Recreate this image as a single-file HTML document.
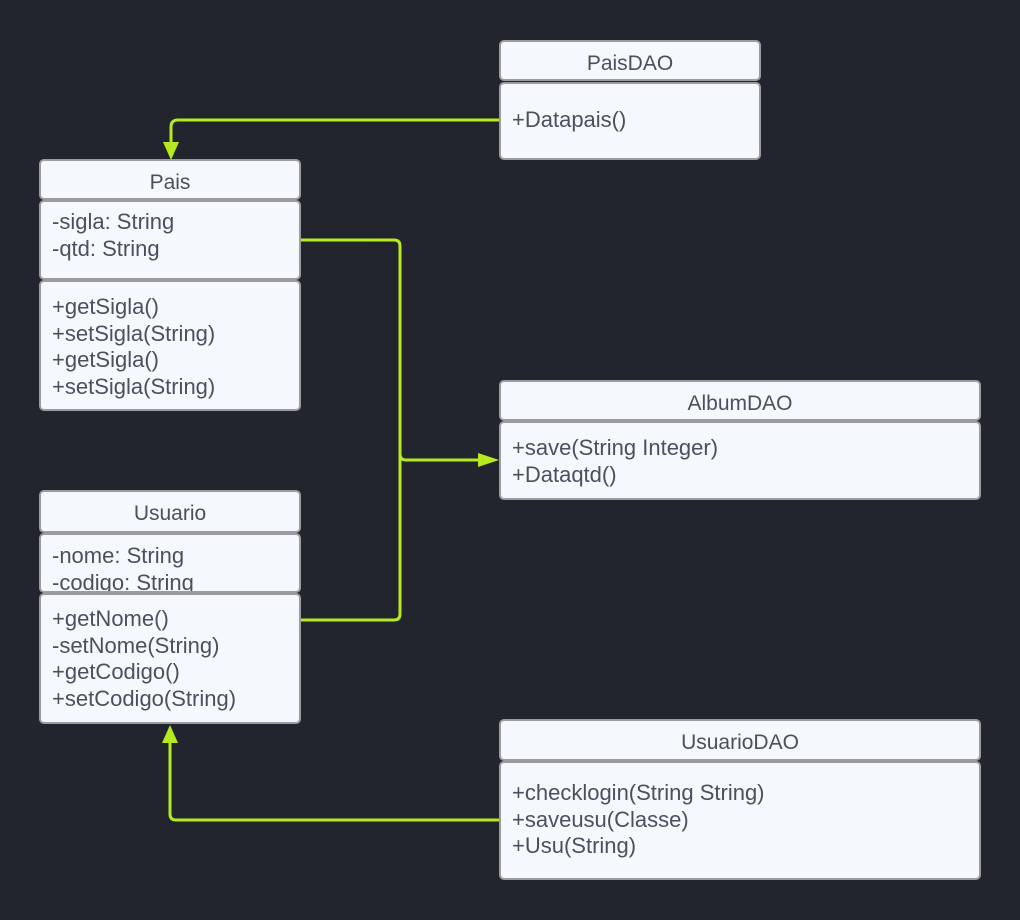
<!DOCTYPE html>
<html><head><style>
body{margin:0;width:1020px;height:920px;background:#22252e;position:relative;overflow:hidden;font-family:"Liberation Sans",sans-serif;}
.b{position:absolute;box-sizing:border-box;background:#f5f9fe;border:2px solid #9a9ca0;border-radius:5px;color:#4a5060;font-size:22px;}
.h{text-align:center;line-height:44px;font-size:21px;}
.c{padding:7px 0 0 11px;line-height:26.5px;white-space:pre;}
svg{position:absolute;left:0;top:0;}
</style></head><body>
<div class="b h" style="left:499px;top:40px;width:262px;height:41px">PaisDAO</div>
<div class="b c" style="left:499px;top:82px;width:262px;height:78px;padding-top:23px">+Datapais()</div>

<div class="b h" style="left:39px;top:159px;width:262px;height:41px">Pais</div>
<div class="b c" style="left:39px;top:200px;width:262px;height:80px;padding-top:7px">-sigla: String
-qtd: String</div>
<div class="b c" style="left:39px;top:280px;width:262px;height:131px;padding-top:12px">+getSigla()
+setSigla(String)
+getSigla()
+setSigla(String)</div>

<div class="b h" style="left:499px;top:380px;width:482px;height:41px">AlbumDAO</div>
<div class="b c" style="left:499px;top:421px;width:482px;height:79px;padding-top:12px">+save(String Integer)
+Dataqtd()</div>

<div class="b h" style="left:39px;top:490px;width:262px;height:43px">Usuario</div>
<div class="b c" style="left:39px;top:533px;width:262px;height:60px;padding-top:8px;overflow:hidden">-nome: String
-codigo: String</div>
<div class="b c" style="left:39px;top:593px;width:262px;height:131px;padding-top:11px">+getNome()
-setNome(String)
+getCodigo()
+setCodigo(String)</div>

<div class="b h" style="left:499px;top:719px;width:482px;height:42px">UsuarioDAO</div>
<div class="b c" style="left:499px;top:761px;width:482px;height:119px;padding-top:17px">+checklogin(String String)
+saveusu(Classe)
+Usu(String)</div>

<svg width="1020" height="920">
<g fill="none" stroke="#b5ea1e" stroke-width="3">
<path d="M499 120 H178 Q171 120 171 127 V142"/>
<path d="M301 240 H394 Q400 240 400 246 V614 Q400 620 394 620 H301"/>
<path d="M400 454 Q400 460 406 460 H482"/>
<path d="M499 820 H176 Q170 820 170 814 V742"/>
</g>
<g fill="#b5ea1e">
<polygon points="163,142 179,142 171,160"/>
<polygon points="478,453 478,467 499,460"/>
<polygon points="162,743 178,743 170,725"/>
</g>
</svg>
</body></html>
